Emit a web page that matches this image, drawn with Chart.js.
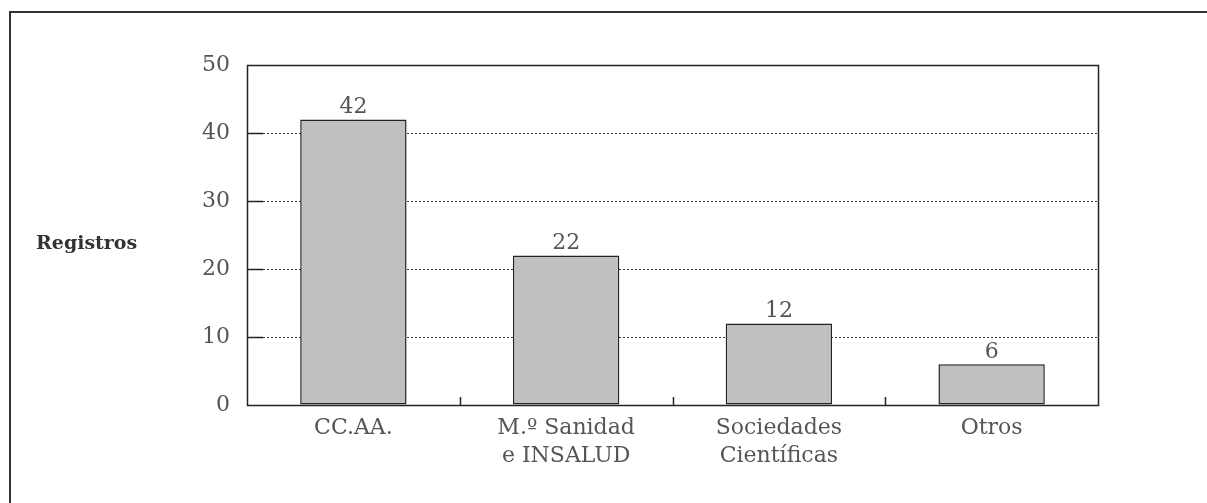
<!DOCTYPE html>
<html>
<head>
<meta charset="utf-8">
<script src="https://cdn.jsdelivr.net/npm/chart.js@4.4.1/dist/chart.umd.min.js"></script>
<style>
  html, body { margin: 0; padding: 0; background: #fff; }
  #wrap { position: relative; width: 1207px; height: 503px; overflow: hidden; }
  #frame { position: absolute; left: 9px; top: 11px; width: 1207px; height: 503px;
           border-top: 2px solid #333; border-left: 2px solid #333; }
  canvas { position: absolute; left: 0; top: 0; }
</style>
</head>
<body>
<div id="wrap">
  <div id="frame"></div>
  <canvas id="chart" width="1207" height="503"></canvas>
</div>
<script>
// datos del gráfico
var categorias = [["CC.AA."], ["M.º Sanidad", "e INSALUD"], ["Sociedades", "Científicas"], ["Otros"]];
var registros = [42, 22, 12, 6];
var yTicks = [0, 10, 20, 30, 40, 50];
var tituloEje = "Registros";

var fuente = "'DejaVu Serif', serif";
var colorTexto = "#555";

// marco, marcas interiores y etiquetas de valor
var extras = {
  id: "extras",
  afterDraw: function (chart) {
    var ctx = chart.ctx;
    var area = chart.chartArea;
    var y = chart.scales.y;
    var x = chart.scales.x;
    ctx.save();

    // marcas del eje Y hacia dentro
    ctx.strokeStyle = "#222";
    ctx.lineWidth = 1.5;
    yTicks.forEach(function (v) {
      if (v === 0 || v === 50) return;
      var py = Math.round(y.getPixelForValue(v)) + 0.5;
      ctx.beginPath();
      ctx.moveTo(area.left, py);
      ctx.lineTo(area.left + 16, py);
      ctx.stroke();
    });

    // marcas del eje X entre categorías
    for (var i = 0; i < categorias.length - 1; i++) {
      var px = Math.round((x.getPixelForTick(i) + x.getPixelForTick(i + 1)) / 2) + 0.5;
      ctx.beginPath();
      ctx.moveTo(px, area.bottom);
      ctx.lineTo(px, area.bottom - 8);
      ctx.stroke();
    }

    // recuadro del área
    ctx.strokeRect(Math.round(area.left) + 0.5, Math.round(area.top) + 0.5,
      Math.round(area.right - area.left), Math.round(area.bottom - area.top));

    // valores sobre las barras
    ctx.fillStyle = colorTexto;
    ctx.font = "22px " + fuente;
    ctx.textAlign = "center";
    ctx.textBaseline = "bottom";
    var meta = chart.getDatasetMeta(0);
    meta.data.forEach(function (bar, i) {
      ctx.fillText(String(registros[i]), bar.x, bar.y - 1);
    });

    // título del eje
    ctx.fillStyle = "#333";
    ctx.font = "bold 19px " + fuente;
    ctx.textAlign = "left";
    ctx.textBaseline = "middle";
    ctx.fillText(tituloEje, 36, 244);
    ctx.restore();
  }
};

new Chart(document.getElementById("chart"), {
  type: "bar",
  data: {
    labels: categorias,
    datasets: [{
      data: registros,
      backgroundColor: "#c0c0c0",
      borderColor: "#222",
      borderWidth: 1.5,
      borderSkipped: false,
      barPercentage: 0.5,
      categoryPercentage: 1
    }]
  },
  options: {
    responsive: false,
    animation: false,
    devicePixelRatio: 1,
    layout: { padding: { top: 65, right: 109, left: 0, bottom: 0 } },
    plugins: { legend: { display: false }, tooltip: { enabled: false } },
    scales: {
      x: {
        grid: { display: false, drawTicks: false },
        border: { display: false },
        ticks: { color: colorTexto, font: { family: fuente, size: 22, lineHeight: 1.28 }, padding: 9 },
        afterFit: function (s) { s.height = 98; }
      },
      y: {
        min: 0,
        max: 50,
        afterBuildTicks: function (s) { s.ticks = yTicks.map(function (v) { return { value: v }; }); },
        grid: {
          drawTicks: false,
          color: function (c) { return (c.tick && (c.tick.value === 0 || c.tick.value === 50)) ? "rgba(0,0,0,0)" : "#333"; },
          lineWidth: 1
        },
        border: { display: false, dash: [2, 2] },
        ticks: { color: colorTexto, font: { family: fuente, size: 22 }, padding: 17 },
        afterFit: function (s) { s.width = 247; }
      }
    }
  },
  plugins: [extras]
});
</script>
</body>
</html>
